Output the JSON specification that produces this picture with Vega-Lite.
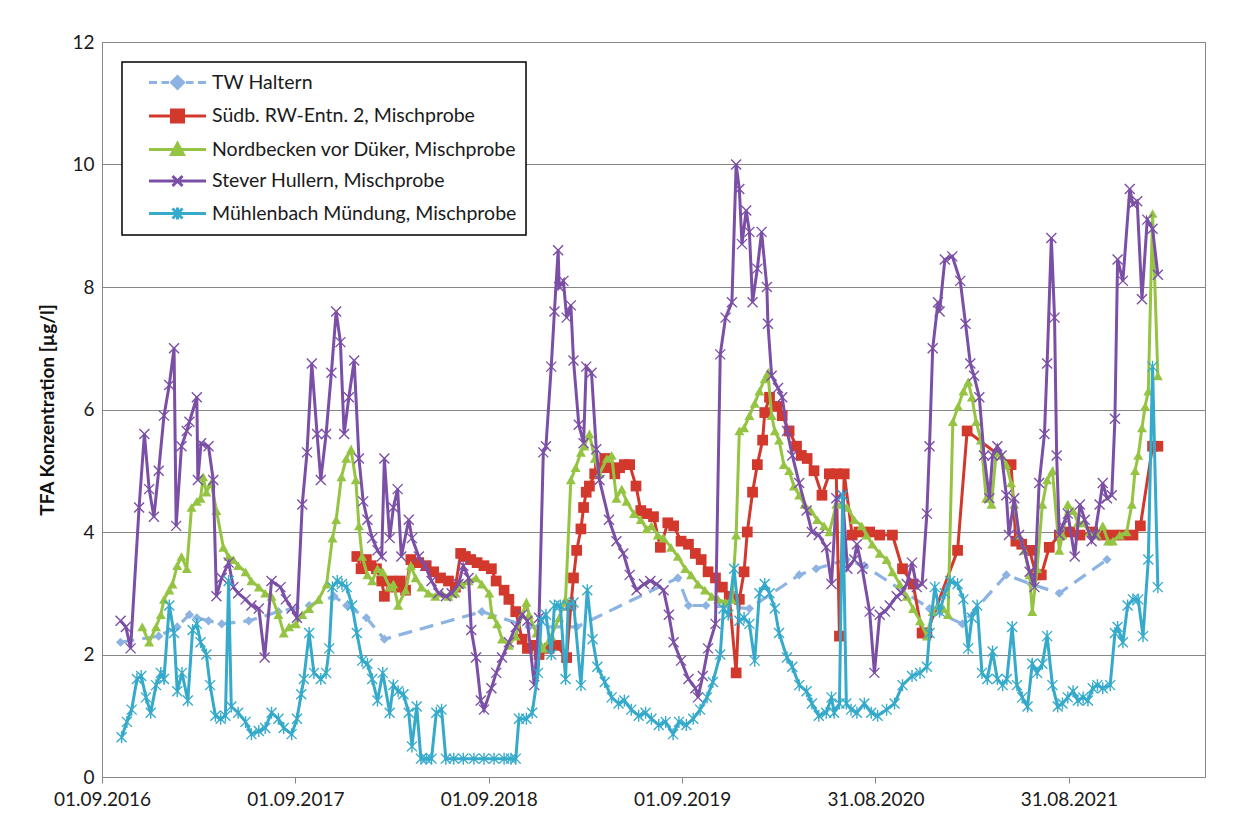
{
"$schema": "https://vega.github.io/schema/vega-lite/v6.json",
"width": 1103, "height": 735,
"autosize": {"type": "none"},
"padding": {"left": 102, "top": 42, "right": 37, "bottom": 36},
"background": "white",
"config": {
 "font": "Lato",
 "view": {"stroke": "#868686", "strokeWidth": 1},
 "axis": {"labelFont": "Lato", "labelFontSize": 19, "labelColor": "#1a1a1a", "domainColor": "#868686", "tickColor": "#868686", "gridColor": "#868686", "gridWidth": 1}
},
"datasets": {
"tw": [
{"d":"2016-10-06","v":2.2},{"d":"2016-12-17","v":2.3},{"d":"2017-01-21","v":2.45},{"d":"2017-02-13","v":2.65},{"d":"2017-02-27","v":2.6},{"d":"2017-03-21","v":2.55},{"d":"2017-04-15","v":2.5},{"d":"2017-06-05","v":2.55},{"d":"2017-07-31","v":2.7},{"d":"2017-09-27","v":2.8},{"d":"2017-11-13","v":2.95},{"d":"2017-12-07","v":2.8},{"d":"2018-01-13","v":2.6},{"d":"2018-02-16","v":2.25},{"d":"2018-08-19","v":2.7},{"d":"2018-11-16","v":2.45},{"d":"2019-02-14","v":2.45},{"d":"2019-08-24","v":3.25},{"d":"2019-09-13","v":2.8},{"d":"2019-10-16","v":2.8},{"d":"2020-01-06","v":2.75},{"d":"2020-04-09","v":3.3},{"d":"2020-05-11","v":3.4},{"d":"2020-07-07","v":3.55},{"d":"2020-08-10","v":3.45},{"d":"2020-12-11","v":2.75},{"d":"2021-02-11","v":2.5},{"d":"2021-05-05","v":3.3},{"d":"2021-06-21","v":3.15},{"d":"2021-08-13","v":3.0},{"d":"2021-11-11","v":3.55}
],
"sr": [
{"d":"2017-12-26","v":3.6},{"d":"2018-01-03","v":3.4},{"d":"2018-01-13","v":3.55},{"d":"2018-01-22","v":3.45},{"d":"2018-02-01","v":3.4},{"d":"2018-02-11","v":3.2},{"d":"2018-02-16","v":2.95},{"d":"2018-02-28","v":3.2},{"d":"2018-03-09","v":3.1},{"d":"2018-03-18","v":3.2},{"d":"2018-03-28","v":3.05},{"d":"2018-04-07","v":3.55},{"d":"2018-04-22","v":3.5},{"d":"2018-05-06","v":3.45},{"d":"2018-05-20","v":3.35},{"d":"2018-06-02","v":3.25},{"d":"2018-06-17","v":3.2},{"d":"2018-06-30","v":3.1},{"d":"2018-07-10","v":3.65},{"d":"2018-07-19","v":3.6},{"d":"2018-07-29","v":3.55},{"d":"2018-08-10","v":3.5},{"d":"2018-08-23","v":3.45},{"d":"2018-09-06","v":3.4},{"d":"2018-09-15","v":3.2},{"d":"2018-09-30","v":3.05},{"d":"2018-10-09","v":2.9},{"d":"2018-10-22","v":2.7},{"d":"2018-11-03","v":2.25},{"d":"2018-11-13","v":2.1},{"d":"2018-11-26","v":2.15},{"d":"2018-12-05","v":2.0},{"d":"2018-12-24","v":2.1},{"d":"2019-01-07","v":2.15},{"d":"2019-01-26","v":1.95},{"d":"2019-02-03","v":2.8},{"d":"2019-02-08","v":3.25},{"d":"2019-02-14","v":3.7},{"d":"2019-02-22","v":4.05},{"d":"2019-02-27","v":4.4},{"d":"2019-03-04","v":4.65},{"d":"2019-03-10","v":4.75},{"d":"2019-03-20","v":4.95},{"d":"2019-03-29","v":5.05},{"d":"2019-04-08","v":5.2},{"d":"2019-04-17","v":5.05},{"d":"2019-04-27","v":4.95},{"d":"2019-05-06","v":5.05},{"d":"2019-05-15","v":5.1},{"d":"2019-05-25","v":5.1},{"d":"2019-06-06","v":4.75},{"d":"2019-06-15","v":4.35},{"d":"2019-06-26","v":4.3},{"d":"2019-07-09","v":4.25},{"d":"2019-07-22","v":3.75},{"d":"2019-08-05","v":4.15},{"d":"2019-08-16","v":4.1},{"d":"2019-08-30","v":3.85},{"d":"2019-09-13","v":3.8},{"d":"2019-09-26","v":3.65},{"d":"2019-10-07","v":3.55},{"d":"2019-10-20","v":3.35},{"d":"2019-11-03","v":3.25},{"d":"2019-11-16","v":3.1},{"d":"2019-11-29","v":2.95},{"d":"2019-12-12","v":1.7},{"d":"2019-12-18","v":2.9},{"d":"2019-12-27","v":3.35},{"d":"2020-01-02","v":4.0},{"d":"2020-01-12","v":4.65},{"d":"2020-01-21","v":5.1},{"d":"2020-01-31","v":5.5},{"d":"2020-02-04","v":5.95},{"d":"2020-02-13","v":6.2},{"d":"2020-02-27","v":6.05},{"d":"2020-03-08","v":5.9},{"d":"2020-03-21","v":5.65},{"d":"2020-04-04","v":5.4},{"d":"2020-04-13","v":5.25},{"d":"2020-04-24","v":5.2},{"d":"2020-05-07","v":5.0},{"d":"2020-05-22","v":4.6},{"d":"2020-06-05","v":4.95},{"d":"2020-06-18","v":4.95},{"d":"2020-06-24","v":2.3},{"d":"2020-07-03","v":4.95},{"d":"2020-07-18","v":3.95},{"d":"2020-07-31","v":4.0},{"d":"2020-08-20","v":4.0},{"d":"2020-09-08","v":3.95},{"d":"2020-10-02","v":3.95},{"d":"2020-10-21","v":3.4},{"d":"2020-11-10","v":3.15},{"d":"2020-11-27","v":2.35},{"d":"2020-12-06","v":2.35},{"d":"2021-02-02","v":3.7},{"d":"2021-02-20","v":5.65},{"d":"2021-05-14","v":5.1},{"d":"2021-05-23","v":3.85},{"d":"2021-06-03","v":3.8},{"d":"2021-06-18","v":3.7},{"d":"2021-06-30","v":3.3},{"d":"2021-07-10","v":3.3},{"d":"2021-07-25","v":3.75},{"d":"2021-08-13","v":3.95},{"d":"2021-09-02","v":4.0},{"d":"2021-09-21","v":3.95},{"d":"2021-10-15","v":4.0},{"d":"2021-11-03","v":3.95},{"d":"2021-11-22","v":3.95},{"d":"2021-12-11","v":3.95},{"d":"2021-12-30","v":3.95},{"d":"2022-01-13","v":4.1},{"d":"2022-02-05","v":5.4},{"d":"2022-02-15","v":5.4}
],
"nb": [
{"d":"2016-11-16","v":2.45},{"d":"2016-11-29","v":2.2},{"d":"2016-12-12","v":2.45},{"d":"2016-12-21","v":2.65},{"d":"2016-12-27","v":2.9},{"d":"2017-01-06","v":3.05},{"d":"2017-01-12","v":3.15},{"d":"2017-01-21","v":3.45},{"d":"2017-01-29","v":3.6},{"d":"2017-02-08","v":3.4},{"d":"2017-02-17","v":4.4},{"d":"2017-02-27","v":4.5},{"d":"2017-03-06","v":4.55},{"d":"2017-03-11","v":4.9},{"d":"2017-03-17","v":4.65},{"d":"2017-03-26","v":4.8},{"d":"2017-04-05","v":4.35},{"d":"2017-04-18","v":3.75},{"d":"2017-04-28","v":3.6},{"d":"2017-05-07","v":3.55},{"d":"2017-05-16","v":3.45},{"d":"2017-05-30","v":3.35},{"d":"2017-06-10","v":3.2},{"d":"2017-06-24","v":3.1},{"d":"2017-07-06","v":3.0},{"d":"2017-07-18","v":2.95},{"d":"2017-07-31","v":2.65},{"d":"2017-08-10","v":2.35},{"d":"2017-08-20","v":2.45},{"d":"2017-09-02","v":2.5},{"d":"2017-09-14","v":2.65},{"d":"2017-09-27","v":2.75},{"d":"2017-10-15","v":2.9},{"d":"2017-10-30","v":3.15},{"d":"2017-11-10","v":3.9},{"d":"2017-11-17","v":4.2},{"d":"2017-11-27","v":4.9},{"d":"2017-12-06","v":5.2},{"d":"2017-12-15","v":5.35},{"d":"2017-12-24","v":4.85},{"d":"2017-12-30","v":4.1},{"d":"2018-01-05","v":3.6},{"d":"2018-01-15","v":3.3},{"d":"2018-01-24","v":3.2},{"d":"2018-02-03","v":3.4},{"d":"2018-02-13","v":3.35},{"d":"2018-02-26","v":3.1},{"d":"2018-03-05","v":3.15},{"d":"2018-03-14","v":2.8},{"d":"2018-03-28","v":3.05},{"d":"2018-04-07","v":3.45},{"d":"2018-04-16","v":3.25},{"d":"2018-04-27","v":3.1},{"d":"2018-05-10","v":3.0},{"d":"2018-05-23","v":2.95},{"d":"2018-06-04","v":3.0},{"d":"2018-06-17","v":2.95},{"d":"2018-06-30","v":3.0},{"d":"2018-07-12","v":3.15},{"d":"2018-07-25","v":3.2},{"d":"2018-08-08","v":3.25},{"d":"2018-08-19","v":3.15},{"d":"2018-09-02","v":3.0},{"d":"2018-09-07","v":2.65},{"d":"2018-09-17","v":2.5},{"d":"2018-09-26","v":2.25},{"d":"2018-10-09","v":2.15},{"d":"2018-10-22","v":2.3},{"d":"2018-11-03","v":2.65},{"d":"2018-11-11","v":2.85},{"d":"2018-11-16","v":2.65},{"d":"2018-11-30","v":2.35},{"d":"2018-12-13","v":2.1},{"d":"2018-12-28","v":2.3},{"d":"2019-01-12","v":2.6},{"d":"2019-01-24","v":2.9},{"d":"2019-02-03","v":4.85},{"d":"2019-02-12","v":5.05},{"d":"2019-02-22","v":5.3},{"d":"2019-02-28","v":5.4},{"d":"2019-03-10","v":5.6},{"d":"2019-03-20","v":5.2},{"d":"2019-03-29","v":4.95},{"d":"2019-04-12","v":5.2},{"d":"2019-04-21","v":5.25},{"d":"2019-04-30","v":4.55},{"d":"2019-05-10","v":4.7},{"d":"2019-05-19","v":4.5},{"d":"2019-06-02","v":4.3},{"d":"2019-06-15","v":4.2},{"d":"2019-06-26","v":4.05},{"d":"2019-07-05","v":4.1},{"d":"2019-07-17","v":3.95},{"d":"2019-07-28","v":3.9},{"d":"2019-08-11","v":3.75},{"d":"2019-08-24","v":3.6},{"d":"2019-09-07","v":3.4},{"d":"2019-09-18","v":3.3},{"d":"2019-10-01","v":3.15},{"d":"2019-10-14","v":3.05},{"d":"2019-10-27","v":2.95},{"d":"2019-11-08","v":2.9},{"d":"2019-11-22","v":2.85},{"d":"2019-12-04","v":2.9},{"d":"2019-12-12","v":3.95},{"d":"2019-12-18","v":5.65},{"d":"2019-12-27","v":5.7},{"d":"2020-01-06","v":5.9},{"d":"2020-01-16","v":6.1},{"d":"2020-01-25","v":6.3},{"d":"2020-02-04","v":6.5},{"d":"2020-02-10","v":6.6},{"d":"2020-02-17","v":5.9},{"d":"2020-02-23","v":5.65},{"d":"2020-03-02","v":5.5},{"d":"2020-03-11","v":5.1},{"d":"2020-03-21","v":5.0},{"d":"2020-03-30","v":4.75},{"d":"2020-04-09","v":4.6},{"d":"2020-04-19","v":4.45},{"d":"2020-05-01","v":4.35},{"d":"2020-05-13","v":4.2},{"d":"2020-05-26","v":4.1},{"d":"2020-06-05","v":4.0},{"d":"2020-06-18","v":4.45},{"d":"2020-06-30","v":4.45},{"d":"2020-07-09","v":4.4},{"d":"2020-07-22","v":4.2},{"d":"2020-08-05","v":4.1},{"d":"2020-08-14","v":3.95},{"d":"2020-08-25","v":3.8},{"d":"2020-09-08","v":3.65},{"d":"2020-09-21","v":3.55},{"d":"2020-10-02","v":3.35},{"d":"2020-10-16","v":3.15},{"d":"2020-10-29","v":2.95},{"d":"2020-11-10","v":2.75},{"d":"2020-11-23","v":2.55},{"d":"2020-12-06","v":2.3},{"d":"2020-12-17","v":2.7},{"d":"2020-12-27","v":2.8},{"d":"2021-01-06","v":2.75},{"d":"2021-01-15","v":2.65},{"d":"2021-01-24","v":5.8},{"d":"2021-02-03","v":6.05},{"d":"2021-02-13","v":6.3},{"d":"2021-02-22","v":6.45},{"d":"2021-03-01","v":6.2},{"d":"2021-03-09","v":5.8},{"d":"2021-03-18","v":5.5},{"d":"2021-03-28","v":4.55},{"d":"2021-04-07","v":4.45},{"d":"2021-04-16","v":5.3},{"d":"2021-04-26","v":5.25},{"d":"2021-05-05","v":5.1},{"d":"2021-05-14","v":4.8},{"d":"2021-05-20","v":4.45},{"d":"2021-05-29","v":3.95},{"d":"2021-06-08","v":3.7},{"d":"2021-06-18","v":3.3},{"d":"2021-06-23","v":2.7},{"d":"2021-07-02","v":3.4},{"d":"2021-07-12","v":4.45},{"d":"2021-07-21","v":4.85},{"d":"2021-07-31","v":5.0},{"d":"2021-08-13","v":3.7},{"d":"2021-08-19","v":3.95},{"d":"2021-08-29","v":4.45},{"d":"2021-09-08","v":4.35},{"d":"2021-09-17","v":4.15},{"d":"2021-09-27","v":4.15},{"d":"2021-10-09","v":4.0},{"d":"2021-10-23","v":3.95},{"d":"2021-11-03","v":4.1},{"d":"2021-11-13","v":3.85},{"d":"2021-11-22","v":3.85},{"d":"2021-12-05","v":3.95},{"d":"2021-12-18","v":4.0},{"d":"2021-12-28","v":4.45},{"d":"2022-01-03","v":5.0},{"d":"2022-01-09","v":5.25},{"d":"2022-01-16","v":5.7},{"d":"2022-01-22","v":6.05},{"d":"2022-01-28","v":6.3},{"d":"2022-02-05","v":9.2},{"d":"2022-02-15","v":6.55}
],
"sh": [
{"d":"2016-10-06","v":2.55},{"d":"2016-10-16","v":2.45},{"d":"2016-10-25","v":2.1},{"d":"2016-11-10","v":4.4},{"d":"2016-11-20","v":5.6},{"d":"2016-11-29","v":4.7},{"d":"2016-12-08","v":4.25},{"d":"2016-12-17","v":5.0},{"d":"2016-12-27","v":5.9},{"d":"2017-01-06","v":6.4},{"d":"2017-01-15","v":7.0},{"d":"2017-01-19","v":4.1},{"d":"2017-01-29","v":5.4},{"d":"2017-02-08","v":5.65},{"d":"2017-02-13","v":5.8},{"d":"2017-02-27","v":6.2},{"d":"2017-03-01","v":4.85},{"d":"2017-03-07","v":5.45},{"d":"2017-03-21","v":5.4},{"d":"2017-03-30","v":4.85},{"d":"2017-04-05","v":2.95},{"d":"2017-04-15","v":3.25},{"d":"2017-04-28","v":3.5},{"d":"2017-05-07","v":3.1},{"d":"2017-05-16","v":3.0},{"d":"2017-05-30","v":2.9},{"d":"2017-06-10","v":2.8},{"d":"2017-06-24","v":2.75},{"d":"2017-07-05","v":1.95},{"d":"2017-07-18","v":3.2},{"d":"2017-08-04","v":3.1},{"d":"2017-08-14","v":2.9},{"d":"2017-08-25","v":2.75},{"d":"2017-09-04","v":2.6},{"d":"2017-09-14","v":4.45},{"d":"2017-09-23","v":5.3},{"d":"2017-10-02","v":6.75},{"d":"2017-10-12","v":5.6},{"d":"2017-10-19","v":4.85},{"d":"2017-10-29","v":5.6},{"d":"2017-11-08","v":6.6},{"d":"2017-11-17","v":7.6},{"d":"2017-11-25","v":7.1},{"d":"2017-12-02","v":5.6},{"d":"2017-12-11","v":6.2},{"d":"2017-12-21","v":6.8},{"d":"2017-12-30","v":5.2},{"d":"2018-01-07","v":4.5},{"d":"2018-01-15","v":4.2},{"d":"2018-01-24","v":3.9},{"d":"2018-02-03","v":3.7},{"d":"2018-02-11","v":3.6},{"d":"2018-02-16","v":5.2},{"d":"2018-02-26","v":3.9},{"d":"2018-03-05","v":4.4},{"d":"2018-03-13","v":4.7},{"d":"2018-03-20","v":3.6},{"d":"2018-04-03","v":4.2},{"d":"2018-04-09","v":3.9},{"d":"2018-04-22","v":3.6},{"d":"2018-05-04","v":3.45},{"d":"2018-05-16","v":3.2},{"d":"2018-05-29","v":3.0},{"d":"2018-06-12","v":2.95},{"d":"2018-06-23","v":3.0},{"d":"2018-07-06","v":3.15},{"d":"2018-07-15","v":3.45},{"d":"2018-07-25","v":3.25},{"d":"2018-07-30","v":2.4},{"d":"2018-08-08","v":1.95},{"d":"2018-08-17","v":1.25},{"d":"2018-08-23","v":1.1},{"d":"2018-09-06","v":1.45},{"d":"2018-09-15","v":1.7},{"d":"2018-09-26","v":1.95},{"d":"2018-10-09","v":2.2},{"d":"2018-10-22","v":2.45},{"d":"2018-11-03","v":2.65},{"d":"2018-11-13","v":2.55},{"d":"2018-11-26","v":1.5},{"d":"2018-12-05","v":2.6},{"d":"2018-12-13","v":5.3},{"d":"2018-12-18","v":5.4},{"d":"2018-12-28","v":6.7},{"d":"2019-01-03","v":7.6},{"d":"2019-01-10","v":8.6},{"d":"2019-01-12","v":8.0},{"d":"2019-01-20","v":8.1},{"d":"2019-01-26","v":7.5},{"d":"2019-02-03","v":7.7},{"d":"2019-02-08","v":6.8},{"d":"2019-02-18","v":5.75},{"d":"2019-02-27","v":5.45},{"d":"2019-03-04","v":6.7},{"d":"2019-03-14","v":6.6},{"d":"2019-03-23","v":5.35},{"d":"2019-03-29","v":4.85},{"d":"2019-04-16","v":4.2},{"d":"2019-04-30","v":3.85},{"d":"2019-05-13","v":3.65},{"d":"2019-05-25","v":3.3},{"d":"2019-06-07","v":3.05},{"d":"2019-06-21","v":3.15},{"d":"2019-07-03","v":3.2},{"d":"2019-07-15","v":3.15},{"d":"2019-07-28","v":3.05},{"d":"2019-08-07","v":2.65},{"d":"2019-08-16","v":2.2},{"d":"2019-08-30","v":1.9},{"d":"2019-09-13","v":1.6},{"d":"2019-09-26","v":1.45},{"d":"2019-10-01","v":1.3},{"d":"2019-10-10","v":1.65},{"d":"2019-10-20","v":2.1},{"d":"2019-11-03","v":2.5},{"d":"2019-11-12","v":6.9},{"d":"2019-11-22","v":7.5},{"d":"2019-12-04","v":7.75},{"d":"2019-12-12","v":10.0},{"d":"2019-12-18","v":9.6},{"d":"2019-12-23","v":8.7},{"d":"2019-12-31","v":9.25},{"d":"2020-01-06","v":8.9},{"d":"2020-01-12","v":7.75},{"d":"2020-01-21","v":8.3},{"d":"2020-01-29","v":8.9},{"d":"2020-02-08","v":8.0},{"d":"2020-02-10","v":7.4},{"d":"2020-02-17","v":6.55},{"d":"2020-02-29","v":6.35},{"d":"2020-03-08","v":6.2},{"d":"2020-03-17","v":5.65},{"d":"2020-03-27","v":5.25},{"d":"2020-04-09","v":4.8},{"d":"2020-04-23","v":4.35},{"d":"2020-05-03","v":4.0},{"d":"2020-05-16","v":3.95},{"d":"2020-05-30","v":3.75},{"d":"2020-06-09","v":3.15},{"d":"2020-06-18","v":4.55},{"d":"2020-06-30","v":4.6},{"d":"2020-07-09","v":3.4},{"d":"2020-07-22","v":3.55},{"d":"2020-07-27","v":3.8},{"d":"2020-08-06","v":3.4},{"d":"2020-08-20","v":2.7},{"d":"2020-08-29","v":1.7},{"d":"2020-09-08","v":2.65},{"d":"2020-09-18","v":2.7},{"d":"2020-09-27","v":2.8},{"d":"2020-10-10","v":2.95},{"d":"2020-10-19","v":3.0},{"d":"2020-10-29","v":3.15},{"d":"2020-11-08","v":3.5},{"d":"2020-11-17","v":3.1},{"d":"2020-11-27","v":3.15},{"d":"2020-12-06","v":4.3},{"d":"2020-12-11","v":5.4},{"d":"2020-12-17","v":7.0},{"d":"2020-12-27","v":7.75},{"d":"2020-12-30","v":7.6},{"d":"2021-01-09","v":8.45},{"d":"2021-01-23","v":8.5},{"d":"2021-02-07","v":8.1},{"d":"2021-02-17","v":7.4},{"d":"2021-02-26","v":6.75},{"d":"2021-03-05","v":6.55},{"d":"2021-03-15","v":6.2},{"d":"2021-03-24","v":5.25},{"d":"2021-04-03","v":4.55},{"d":"2021-04-09","v":5.25},{"d":"2021-04-18","v":5.4},{"d":"2021-04-26","v":5.25},{"d":"2021-05-05","v":4.6},{"d":"2021-05-10","v":3.95},{"d":"2021-05-20","v":4.55},{"d":"2021-05-29","v":3.95},{"d":"2021-06-08","v":3.7},{"d":"2021-06-18","v":3.35},{"d":"2021-06-27","v":3.1},{"d":"2021-07-06","v":4.8},{"d":"2021-07-16","v":5.6},{"d":"2021-07-21","v":6.75},{"d":"2021-07-29","v":8.8},{"d":"2021-08-04","v":7.5},{"d":"2021-08-08","v":5.25},{"d":"2021-08-13","v":3.95},{"d":"2021-08-19","v":4.1},{"d":"2021-08-29","v":4.3},{"d":"2021-09-11","v":3.6},{"d":"2021-09-21","v":4.45},{"d":"2021-09-30","v":4.2},{"d":"2021-10-13","v":3.85},{"d":"2021-10-19","v":3.95},{"d":"2021-10-28","v":4.45},{"d":"2021-11-03","v":4.8},{"d":"2021-11-11","v":4.55},{"d":"2021-11-20","v":4.6},{"d":"2021-11-26","v":5.85},{"d":"2021-12-01","v":8.45},{"d":"2021-12-11","v":8.1},{"d":"2021-12-24","v":9.6},{"d":"2021-12-30","v":9.35},{"d":"2022-01-07","v":9.4},{"d":"2022-01-16","v":7.8},{"d":"2022-01-26","v":9.1},{"d":"2022-02-05","v":8.95},{"d":"2022-02-15","v":8.2}
],
"mb": [
{"d":"2016-10-08","v":0.65},{"d":"2016-10-18","v":0.9},{"d":"2016-10-27","v":1.1},{"d":"2016-11-06","v":1.6},{"d":"2016-11-14","v":1.65},{"d":"2016-11-23","v":1.3},{"d":"2016-12-02","v":1.05},{"d":"2016-12-12","v":1.5},{"d":"2016-12-21","v":1.7},{"d":"2016-12-27","v":1.6},{"d":"2017-01-06","v":2.8},{"d":"2017-01-15","v":2.35},{"d":"2017-01-21","v":1.4},{"d":"2017-01-30","v":1.7},{"d":"2017-02-10","v":1.25},{"d":"2017-02-19","v":2.4},{"d":"2017-02-27","v":2.5},{"d":"2017-03-06","v":2.2},{"d":"2017-03-17","v":2.0},{"d":"2017-03-24","v":1.5},{"d":"2017-04-03","v":1.0},{"d":"2017-04-13","v":0.95},{"d":"2017-04-22","v":1.0},{"d":"2017-04-28","v":3.2},{"d":"2017-05-03","v":1.15},{"d":"2017-05-16","v":1.05},{"d":"2017-05-30","v":0.9},{"d":"2017-06-10","v":0.7},{"d":"2017-06-24","v":0.75},{"d":"2017-07-06","v":0.8},{"d":"2017-07-18","v":1.05},{"d":"2017-07-31","v":0.95},{"d":"2017-08-10","v":0.8},{"d":"2017-08-25","v":0.7},{"d":"2017-09-04","v":0.95},{"d":"2017-09-12","v":1.35},{"d":"2017-09-17","v":1.6},{"d":"2017-09-27","v":2.35},{"d":"2017-10-06","v":1.7},{"d":"2017-10-19","v":1.6},{"d":"2017-10-29","v":1.7},{"d":"2017-11-04","v":2.1},{"d":"2017-11-10","v":3.1},{"d":"2017-11-19","v":3.2},{"d":"2017-11-28","v":3.15},{"d":"2017-12-07","v":3.1},{"d":"2017-12-17","v":2.8},{"d":"2017-12-26","v":2.35},{"d":"2018-01-05","v":1.9},{"d":"2018-01-15","v":1.85},{"d":"2018-01-24","v":1.6},{"d":"2018-02-03","v":1.25},{"d":"2018-02-13","v":1.7},{"d":"2018-02-26","v":1.05},{"d":"2018-03-05","v":1.5},{"d":"2018-03-14","v":1.4},{"d":"2018-03-24","v":1.35},{"d":"2018-04-03","v":1.05},{"d":"2018-04-09","v":0.5},{"d":"2018-04-18","v":1.15},{"d":"2018-04-26","v":0.3},{"d":"2018-05-06","v":0.3},{"d":"2018-05-16","v":0.3},{"d":"2018-05-25","v":1.05},{"d":"2018-06-04","v":1.1},{"d":"2018-06-12","v":0.3},{"d":"2018-06-27","v":0.3},{"d":"2018-07-15","v":0.3},{"d":"2018-08-04","v":0.3},{"d":"2018-08-23","v":0.3},{"d":"2018-09-11","v":0.3},{"d":"2018-09-30","v":0.3},{"d":"2018-10-13","v":0.3},{"d":"2018-10-22","v":0.3},{"d":"2018-10-28","v":0.95},{"d":"2018-11-11","v":0.95},{"d":"2018-11-22","v":1.05},{"d":"2018-12-03","v":1.7},{"d":"2018-12-09","v":2.55},{"d":"2018-12-18","v":2.65},{"d":"2018-12-28","v":2.0},{"d":"2019-01-03","v":2.8},{"d":"2019-01-14","v":2.8},{"d":"2019-01-24","v":1.6},{"d":"2019-01-29","v":2.8},{"d":"2019-02-08","v":2.85},{"d":"2019-02-22","v":1.5},{"d":"2019-03-06","v":3.05},{"d":"2019-03-16","v":2.25},{"d":"2019-03-25","v":1.8},{"d":"2019-04-08","v":1.55},{"d":"2019-04-21","v":1.3},{"d":"2019-05-04","v":1.2},{"d":"2019-05-15","v":1.25},{"d":"2019-05-28","v":1.1},{"d":"2019-06-11","v":1.0},{"d":"2019-06-24","v":1.05},{"d":"2019-07-05","v":0.95},{"d":"2019-07-19","v":0.85},{"d":"2019-08-01","v":0.9},{"d":"2019-08-15","v":0.7},{"d":"2019-08-26","v":0.9},{"d":"2019-09-09","v":0.85},{"d":"2019-09-22","v":0.95},{"d":"2019-10-05","v":1.1},{"d":"2019-10-18","v":1.3},{"d":"2019-10-29","v":1.55},{"d":"2019-11-12","v":2.0},{"d":"2019-11-18","v":2.75},{"d":"2019-11-27","v":2.65},{"d":"2019-12-08","v":3.4},{"d":"2019-12-18","v":2.55},{"d":"2019-12-27","v":2.6},{"d":"2020-01-06","v":2.5},{"d":"2020-01-16","v":1.9},{"d":"2020-01-25","v":3.0},{"d":"2020-02-04","v":3.15},{"d":"2020-02-13","v":3.0},{"d":"2020-02-23","v":2.75},{"d":"2020-03-02","v":2.35},{"d":"2020-03-17","v":1.95},{"d":"2020-03-27","v":1.8},{"d":"2020-04-09","v":1.5},{"d":"2020-04-23","v":1.4},{"d":"2020-05-03","v":1.2},{"d":"2020-05-16","v":1.0},{"d":"2020-05-30","v":1.05},{"d":"2020-06-09","v":1.3},{"d":"2020-06-14","v":1.05},{"d":"2020-06-24","v":1.2},{"d":"2020-06-30","v":4.6},{"d":"2020-07-07","v":1.2},{"d":"2020-07-16","v":1.1},{"d":"2020-07-27","v":1.05},{"d":"2020-08-10","v":1.2},{"d":"2020-08-23","v":1.05},{"d":"2020-09-04","v":1.0},{"d":"2020-09-21","v":1.1},{"d":"2020-10-06","v":1.2},{"d":"2020-10-21","v":1.5},{"d":"2020-11-08","v":1.65},{"d":"2020-11-23","v":1.7},{"d":"2020-12-06","v":1.8},{"d":"2020-12-11","v":2.35},{"d":"2020-12-21","v":3.1},{"d":"2020-12-30","v":2.7},{"d":"2021-01-09","v":3.0},{"d":"2021-01-19","v":3.2},{"d":"2021-02-02","v":3.15},{"d":"2021-02-13","v":2.9},{"d":"2021-02-22","v":2.1},{"d":"2021-03-01","v":2.6},{"d":"2021-03-11","v":2.8},{"d":"2021-03-20","v":1.7},{"d":"2021-03-30","v":1.6},{"d":"2021-04-09","v":2.05},{"d":"2021-04-18","v":1.6},{"d":"2021-04-28","v":1.5},{"d":"2021-05-06","v":1.6},{"d":"2021-05-16","v":2.45},{"d":"2021-05-25","v":1.5},{"d":"2021-06-04","v":1.3},{"d":"2021-06-14","v":1.15},{"d":"2021-06-23","v":1.85},{"d":"2021-07-02","v":1.7},{"d":"2021-07-12","v":1.85},{"d":"2021-07-21","v":2.3},{"d":"2021-07-31","v":1.5},{"d":"2021-08-10","v":1.15},{"d":"2021-08-19","v":1.2},{"d":"2021-08-29","v":1.3},{"d":"2021-09-08","v":1.4},{"d":"2021-09-17","v":1.25},{"d":"2021-09-27","v":1.3},{"d":"2021-10-06","v":1.25},{"d":"2021-10-15","v":1.45},{"d":"2021-10-24","v":1.5},{"d":"2021-11-03","v":1.45},{"d":"2021-11-17","v":1.5},{"d":"2021-11-26","v":2.35},{"d":"2021-12-01","v":2.45},{"d":"2021-12-11","v":2.2},{"d":"2021-12-20","v":2.8},{"d":"2021-12-30","v":2.9},{"d":"2022-01-09","v":2.9},{"d":"2022-01-18","v":2.3},{"d":"2022-01-28","v":3.55},{"d":"2022-02-05","v":6.7},{"d":"2022-02-15","v":3.1}
]
},
"encoding": {
 "x": {"field": "d", "type": "temporal",
  "scale": {"type": "utc", "domain": [{"year": 2016, "month": 9, "date": 1, "utc": true}, {"year": 2022, "month": 5, "date": 15, "utc": true}]},
  "axis": {"title": null, "format": "%d.%m.%Y", "grid": false, "tickSize": 6, "labelPadding": 7, "labelFlush": false, "labelOverlap": false,
   "values": [{"year": 2016, "month": 9, "date": 1, "utc": true}, {"year": 2017, "month": 9, "date": 1, "utc": true}, {"year": 2018, "month": 9, "date": 1, "utc": true}, {"year": 2019, "month": 9, "date": 1, "utc": true}, {"year": 2020, "month": 8, "date": 31, "utc": true}, {"year": 2021, "month": 8, "date": 31, "utc": true}]}},
 "y": {"field": "v", "type": "quantitative", "scale": {"domain": [0, 12], "nice": false},
  "axis": {"values": [0, 2, 4, 6, 8, 10, 12], "title": "TFA Konzentration [µg/l]", "titleFont": "Lato", "titleFontSize": 19, "titleFontWeight": "bold", "titleColor": "#111111", "titlePadding": 14, "ticks": false, "labelPadding": 8, "grid": true, "domain": false}}
},
"layer": [
 {"data": {"name": "tw"},
  "encoding": {"color": {"datum": "TW Haltern", "type": "nominal",
   "scale": {"domain": ["TW Haltern", "Südb. RW-Entn. 2, Mischprobe", "Nordbecken vor Düker, Mischprobe", "Stever Hullern, Mischprobe", "Mühlenbach Mündung, Mischprobe"], "range": ["#8db3e2", "#d2382c", "#95c443", "#7b4fa6", "#35aacb"]},
   "legend": {"orient": "none", "legendX": 20, "legendY": 20, "title": null, "direction": "vertical",
    "strokeColor": "#000000", "fillColor": "#ffffff", "padding": 9,
    "symbolSize": 400, "symbolStrokeWidth": 3, "symbolOffset": 35,
    "labelFont": "Lato", "labelFontSize": 19.5, "labelColor": "#1a1a1a", "labelOffset": 23, "labelLimit": 600, "rowPadding": 8.5,
    "encode": {
     "legend": {"update": {"strokeWidth": {"value": 1.5}}},
     "symbols": {"update": {
      "shape": {"signal": "datum.value === 'TW Haltern' ? 'M-2.85,0H-2.05M-1.6,0H-0.85M0.85,0H1.6M2.05,0H2.85M-0.6,0L0,-0.6L0.6,0L0,0.6Z' : datum.value === 'Südb. RW-Entn. 2, Mischprobe' ? 'M-2.85,0H2.85M-0.6,-0.6H0.6V0.6H-0.6Z' : datum.value === 'Nordbecken vor Düker, Mischprobe' ? 'M-2.85,0H2.85M-0.6,0.5L0,-0.6L0.6,0.5Z' : datum.value === 'Stever Hullern, Mischprobe' ? 'M-2.85,0H2.85M-0.5,-0.5L0.5,0.5M-0.5,0.5L0.5,-0.5' : 'M-2.85,0H2.85M-0.5,-0.5L0.5,0.5M-0.5,0.5L0.5,-0.5M0,-0.6V0.6'"},
      "fill": {"scale": "color", "field": "value"},
      "stroke": {"scale": "color", "field": "value"},
      "opacity": {"value": 1}}}}}}},
  "layer": [
   {"mark": {"type": "line", "strokeWidth": 3.2, "strokeDash": [14, 8]}},
   {"mark": {"type": "point", "shape": "diamond", "filled": true, "size": 85, "opacity": 1}}
  ]},
 {"data": {"name": "sr"},
  "encoding": {"color": {"datum": "Südb. RW-Entn. 2, Mischprobe", "type": "nominal"}},
  "layer": [
   {"mark": {"type": "line", "strokeWidth": 3}},
   {"mark": {"type": "point", "shape": "square", "filled": true, "size": 115, "opacity": 1}}
  ]},
 {"data": {"name": "nb"},
  "encoding": {"color": {"datum": "Nordbecken vor Düker, Mischprobe", "type": "nominal"}},
  "layer": [
   {"mark": {"type": "line", "strokeWidth": 3}},
   {"mark": {"type": "point", "shape": "triangle-up", "filled": true, "size": 100, "opacity": 1}}
  ]},
 {"data": {"name": "sh"},
  "encoding": {"color": {"datum": "Stever Hullern, Mischprobe", "type": "nominal"}},
  "layer": [
   {"mark": {"type": "line", "strokeWidth": 3}},
   {"mark": {"type": "point", "shape": "M-1,-1L1,1M-1,1L1,-1", "filled": false, "strokeWidth": 1.4, "size": 100, "opacity": 1}}
  ]},
 {"data": {"name": "mb"},
  "encoding": {"color": {"datum": "Mühlenbach Mündung, Mischprobe", "type": "nominal"}},
  "layer": [
   {"mark": {"type": "line", "strokeWidth": 3}},
   {"mark": {"type": "point", "shape": "M-1,-1L1,1M-1,1L1,-1M0,-1.2V1.2", "filled": false, "strokeWidth": 1.4, "size": 100, "opacity": 1}}
  ]}
]
}
